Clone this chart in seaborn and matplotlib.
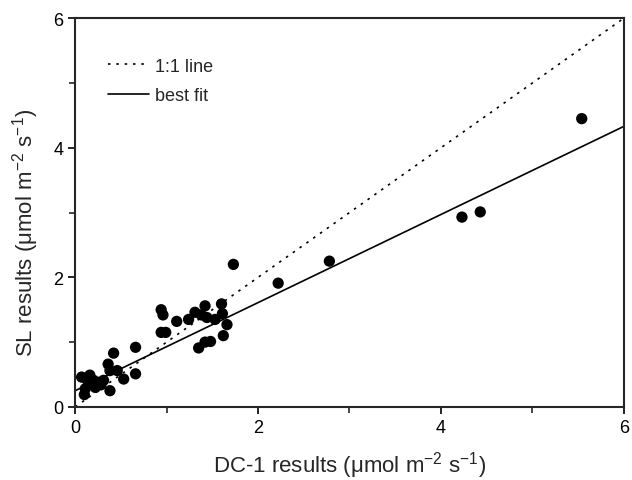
import numpy as np
import pandas as pd
import matplotlib
matplotlib.use("Agg")
import matplotlib.pyplot as plt
import seaborn as sns
from matplotlib.ticker import MultipleLocator

# values
dc1 = [0.10, 0.07, 0.11, 0.15, 0.16, 0.20, 0.22, 0.25, 0.31, 0.36, 0.38, 0.38, 0.42,
       0.46, 0.53, 0.66, 0.66, 0.94, 0.96, 0.94, 0.99, 1.11, 1.24, 1.31, 1.38, 1.42,
       1.44, 1.53, 1.60, 1.61, 1.66, 1.62, 1.35, 1.42, 1.48, 1.73, 2.22, 2.78, 4.23,
       4.43, 5.54, 0.28, 0.13]
sl = [0.19, 0.46, 0.28, 0.38, 0.49, 0.41, 0.30, 0.38, 0.41, 0.66, 0.56, 0.25, 0.83,
      0.56, 0.43, 0.92, 0.51, 1.50, 1.42, 1.15, 1.15, 1.32, 1.35, 1.46, 1.42, 1.56,
      1.38, 1.35, 1.59, 1.44, 1.27, 1.10, 0.91, 1.00, 1.01, 2.20, 1.91, 2.25, 2.93,
      3.01, 4.45, 0.34, 0.42]

fit_intercept = 0.25
fit_slope = 0.68
line_x = [0, 6]

df = pd.DataFrame({"DC-1": dc1, "SL": sl})
lines = pd.DataFrame({"x": line_x * 2,
                      "y": line_x + [fit_intercept + fit_slope * v for v in line_x],
                      "kind": ["1:1 line"] * 2 + ["best fit"] * 2})

sns.set_style("ticks")
plt.rcParams["font.family"] = ["Liberation Sans", "DejaVu Sans"]
plt.rcParams["mathtext.fontset"] = "custom"
plt.rcParams["mathtext.rm"] = "Liberation Sans"
plt.rcParams["mathtext.it"] = "Liberation Sans:italic"

fig = plt.figure(figsize=(6.32, 4.81), dpi=100)
ax = fig.add_axes([0.119, 0.152, 0.868, 0.808])

sns.lineplot(data=lines[lines.kind == "1:1 line"], x="x", y="y", ax=ax, color="black",
             linewidth=1.2, linestyle=(0, (1.5, 3.5)), label="1:1 line")
sns.lineplot(data=lines[lines.kind == "best fit"], x="x", y="y", ax=ax, color="black",
             linewidth=1.2, label="best fit")
sns.scatterplot(data=df, x="DC-1", y="SL", ax=ax, color="black", s=66,
                edgecolor="none", zorder=3)

ax.set_xlim(0, 6)
ax.set_ylim(0, 6)
ax.xaxis.set_major_locator(MultipleLocator(2))
ax.xaxis.set_minor_locator(MultipleLocator(1))
ax.yaxis.set_major_locator(MultipleLocator(2))
ax.yaxis.set_minor_locator(MultipleLocator(1))
ax.tick_params(which="major", direction="out", length=5, width=1.2, labelsize=13,
               colors="black")
ax.tick_params(which="minor", direction="out", length=4, width=1.2)
for sp in ax.spines.values():
    sp.set_linewidth(1.5)
    sp.set_visible(True)

ax.set_xlabel("DC-1 results (μmol m$^{-2}$ s$^{-1}$)", fontsize=16, labelpad=10)
ax.set_ylabel("SL results (μmol m$^{-2}$ s$^{-1}$)", fontsize=16)
ax.yaxis.set_label_coords(-0.062, 0.45)

leg = ax.legend(loc="upper left", frameon=False, fontsize=13, handlelength=2.3,
                handletextpad=0.3, bbox_to_anchor=(0.03, 0.94), labelspacing=0.7)

fig.savefig("out.png", dpi=100)
